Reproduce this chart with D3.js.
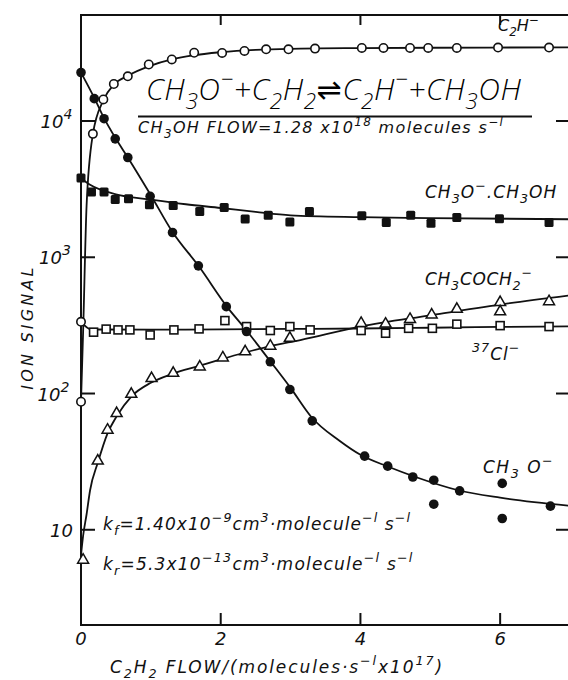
<!DOCTYPE html>
<meta charset="utf-8">
<head>
    <title>CH3O- + C2H2 equilibrium</title>
    <script src="https://d3js.org/d3.v7.min.js"></script>
    <style>
        body { margin: 0; background: #ffffff; }
        text { font-family: "DejaVu Sans", sans-serif; font-style: italic; fill: #111; }
    </style>
</head>
<body>
<div id="my_dataviz"></div>
<script>

// measured points (x = C2H2 flow / 1e17, y = ion signal)
var c2hX = [0, 0, 0.17, 0.32, 0.47, 0.67, 0.97, 1.30, 1.62, 2.02, 2.34, 2.65, 2.97, 3.35, 4.02, 4.33, 4.71, 4.97, 5.38, 5.97, 6.70];
var c2hY = [87, 336, 8050, 14400, 18700, 21300, 26000, 28300, 31700, 31600, 32700, 33600, 33600, 34000, 34400, 34400, 34400, 34400, 34400, 34600, 34600];

var ch3oX = [0, 0.19, 0.33, 0.49, 0.67, 0.99, 1.31, 1.68, 2.08, 2.37, 2.71, 2.99, 3.31, 4.06, 4.39, 4.75, 5.05, 5.05, 5.42, 6.03, 6.03, 6.72];
var ch3oY = [22700, 14600, 10400, 7400, 5400, 2800, 1520, 865, 434, 285, 171, 107, 63, 34.7, 29.3, 24.4, 23.1, 15.4, 19.3, 21.9, 12.1, 14.9];

var clusterX = [0, 0.15, 0.33, 0.49, 0.68, 0.98, 1.32, 1.70, 2.05, 2.35, 2.68, 2.99, 3.27, 4.02, 4.37, 4.72, 5.01, 5.38, 5.99, 6.70];
var clusterY = [3820, 3010, 3010, 2650, 2690, 2430, 2400, 2170, 2320, 1910, 2030, 1815, 2170, 2020, 1800, 2030, 1780, 1960, 1920, 1800];

var clX = [0.18, 0.36, 0.53, 0.70, 0.99, 1.33, 1.69, 2.06, 2.37, 2.71, 2.99, 3.28, 4.01, 4.36, 4.69, 5.03, 5.38, 6.00, 6.70];
var clY = [282, 297, 293, 293, 269, 293, 298, 343, 310, 290, 310, 293, 290, 277, 301, 301, 323, 315, 310];

var acX = [0.03, 0.24, 0.38, 0.51, 0.72, 1.01, 1.32, 1.70, 2.03, 2.35, 2.71, 2.99, 4.01, 4.36, 4.71, 5.02, 5.38, 6.0, 6.0, 6.70];
var acY = [6.0, 32, 54, 71.5, 99, 129, 141, 157, 183, 203, 223, 255, 328, 324, 351, 378, 416, 466, 399, 473];

// fitted curves as drawn in the figure
var c2hFitX = [0, 0.03, 0.08, 0.17, 0.32, 0.47, 0.67, 1.0, 1.3, 1.6, 2.0, 2.5, 3.0, 4.0, 5.0, 7.0];
var c2hFitY = [87, 280, 2400, 8000, 14200, 18500, 21500, 25500, 28300, 30300, 32000, 33300, 33900, 34300, 34500, 34700];
var ch3oFitX = [0, 0.19, 0.33, 0.5, 0.67, 1.0, 1.3, 1.7, 2.08, 2.37, 2.7, 3.0, 3.3, 3.7, 4.0, 4.4, 4.8, 5.4, 6.0, 7.0];
var ch3oFitY = [22700, 14800, 10500, 7400, 5400, 2850, 1560, 840, 440, 290, 175, 110, 67, 45, 35.5, 29, 24.3, 19.5, 17.2, 15];
var clusterFitX = [0, 0.13, 0.5, 1, 1.5, 2, 2.5, 3, 4, 5, 7];
var clusterFitY = [3800, 3400, 2900, 2650, 2450, 2300, 2150, 2030, 1970, 1940, 1900];
var clFitX = [0, 0.15, 1, 2, 3, 4, 5, 6, 7];
var clFitY = [336, 295, 294, 296, 298, 300, 304, 308, 311];
var acFitX = [0, 0.03, 0.08, 0.13, 0.24, 0.38, 0.51, 0.72, 1, 1.3, 1.7, 2, 2.35, 2.7, 3.14, 4, 5, 6, 7];
var acFitY = [6.5, 9, 13, 19.5, 31, 51, 68, 95, 120, 139, 160, 178, 200, 222, 247, 310, 375, 450, 525];

var xTicks = [0, 2, 4, 6];
var yTicks = [10, 100, 1000, 10000];
var yTickExp = ["", "2", "3", "4"];

var svg = d3.select("#my_dataviz")
    .append("svg")
    .attr("width", 568)
    .attr("height", 680);

var x = d3.scaleLinear().domain([0, 7]).range([81, 570]);
var y = d3.scaleLog().domain([2, 60000]).range([625, 15]);

// text with _{sub} and ^{sup} parts
function rich(str, px, py, size, spacing) {
    var t = svg.append("text").attr("x", px).attr("y", py)
        .style("font-size", size + "px")
        .style("letter-spacing", (spacing || 0) + "px");
    var re = /([_^])\{([^}]*)\}|([^_^]+)/g, m, shift = 0;
    while ((m = re.exec(str))) {
        var s = m[1] ? (m[1] === "_" ? size * 0.3 : -size * 0.45) : 0;
        t.append("tspan")
            .attr("dy", s - shift)
            .style("font-size", m[1] ? (size * 0.75) + "px" : null)
            .text(m[1] ? m[2] : m[3]);
        shift = s;
    }
    return t;
}

// frame
var x0 = x(0), x1 = x(7), yb = y(2), yt = y(60000);
svg.append("path")
    .attr("d", "M" + x1 + "," + yt + "H" + x0 + "V" + yb + "H" + x1)
    .attr("fill", "none").attr("stroke", "#111").attr("stroke-width", 2);

// ticks
xTicks.forEach(function (d) {
    svg.append("line").attr("x1", x(d)).attr("x2", x(d)).attr("y1", yb).attr("y2", yb - 12)
        .attr("stroke", "#111").attr("stroke-width", 2);
    svg.append("line").attr("x1", x(d)).attr("x2", x(d)).attr("y1", yt).attr("y2", yt + 10)
        .attr("stroke", "#111").attr("stroke-width", 2);
    svg.append("text").attr("x", x(d)).attr("y", 645).attr("text-anchor", "middle")
        .style("font-size", "18px").text(d);
});
yTicks.forEach(function (d, i) {
    svg.append("line").attr("x1", x0).attr("x2", x0 + 14).attr("y1", y(d)).attr("y2", y(d))
        .attr("stroke", "#111").attr("stroke-width", 2);
    svg.append("line").attr("x1", x1).attr("x2", x1 - 14).attr("y1", y(d)).attr("y2", y(d))
        .attr("stroke", "#111").attr("stroke-width", 2);
    var t = svg.append("text").attr("x", i ? 36 + i * 1.5 : 50).attr("y", y(d) + 7)
        .style("font-size", "18px");
    t.append("tspan").text("10");
    t.append("tspan").attr("dy", -9).style("font-size", "14px").text(yTickExp[i]);
});

// curves
var line = d3.line()
    .x(function (d) { return x(d[0]); })
    .y(function (d) { return y(d[1]); })
    .curve(d3.curveMonotoneX);
[[c2hFitX, c2hFitY], [ch3oFitX, ch3oFitY], [clusterFitX, clusterFitY], [clFitX, clFitY], [acFitX, acFitY]]
    .forEach(function (c) {
        svg.append("path")
            .datum(d3.zip(c[0], c[1]))
            .attr("fill", "none")
            .attr("stroke", "#111")
            .attr("stroke-width", 1.8)
            .attr("d", line);
    });

// markers
svg.append("g").selectAll("rect").data(d3.zip(clX, clY)).enter()
    .append("rect")
    .attr("x", function (d) { return x(d[0]) - 4; })
    .attr("y", function (d) { return y(d[1]) - 4; })
    .attr("width", 8).attr("height", 8)
    .attr("fill", "#fff").attr("stroke", "#111").attr("stroke-width", 1.6);

svg.append("g").selectAll("rect").data(d3.zip(clusterX, clusterY)).enter()
    .append("rect")
    .attr("x", function (d) { return x(d[0]) - 4.5; })
    .attr("y", function (d) { return y(d[1]) - 4.5; })
    .attr("width", 9).attr("height", 9).attr("rx", 1.5)
    .attr("fill", "#111");

var tri = d3.symbol().type(d3.symbolTriangle).size(52);
svg.append("g").selectAll("path").data(d3.zip(acX, acY)).enter()
    .append("path")
    .attr("transform", function (d) { return "translate(" + x(d[0]) + "," + y(d[1]) + ")"; })
    .attr("d", tri)
    .attr("fill", "#fff").attr("stroke", "#111").attr("stroke-width", 1.5);

svg.append("g").selectAll("circle").data(d3.zip(c2hX, c2hY)).enter()
    .append("circle")
    .attr("cx", function (d) { return x(d[0]); })
    .attr("cy", function (d) { return y(d[1]); })
    .attr("r", 4.2)
    .attr("fill", "#fff").attr("stroke", "#111").attr("stroke-width", 1.6);

svg.append("g").selectAll("circle").data(d3.zip(ch3oX, ch3oY)).enter()
    .append("circle")
    .attr("cx", function (d) { return x(d[0]); })
    .attr("cy", function (d) { return y(d[1]); })
    .attr("r", 4.8)
    .attr("fill", "#111");

// axis titles
svg.append("text")
    .attr("transform", "translate(33,327) rotate(-90)")
    .attr("text-anchor", "middle")
    .style("font-size", "16px").style("letter-spacing", "3.2px")
    .text("ION SIGNAL");
rich("C_{2}H_{2}  FLOW/(molecules\u00b7s^{\u2212l}x10^{17})", 110, 673, 17, 1.9);

// labels
rich("C_{2}H^{\u2212}", 498, 31, 16);
rich("CH_{3}O^{\u2212}+C_{2}H_{2}\u21ccC_{2}H^{\u2212}+CH_{3}OH", 146, 100, 30, 0.6)
    .style("font-family", "'Open Sans', 'DejaVu Sans', sans-serif").style("font-weight", "300")
    .style("fill", "#000");
svg.append("line").attr("x1", 138).attr("x2", 532).attr("y1", 116.5).attr("y2", 116.5)
    .attr("stroke", "#111").attr("stroke-width", 1.8);
rich("CH_{3}OH  FLOW=1.28 x10^{18} molecules  s^{\u2212l}", 138, 133, 16, 1.35);
rich("CH_{3}O^{\u2212}.CH_{3}OH", 425, 198, 17, 1);
rich("CH_{3}COCH_{2}^{\u2212}", 425, 285, 17, 0.7);
rich("^{37}Cl^{\u2212}", 472, 360, 17, 1);
rich("CH_{3} O^{\u2212}", 483, 473, 17, 1.5);
rich("k_{f}=1.40x10^{\u22129}cm^{3}\u00b7molecule^{\u2212l}  s^{\u2212l}", 103, 530, 17, 1.05);
rich("k_{r}=5.3x10^{\u221213}cm^{3}\u00b7molecule^{\u2212l}  s^{\u2212l}", 103, 570, 17, 1.2);

</script>
</body>
</html>
